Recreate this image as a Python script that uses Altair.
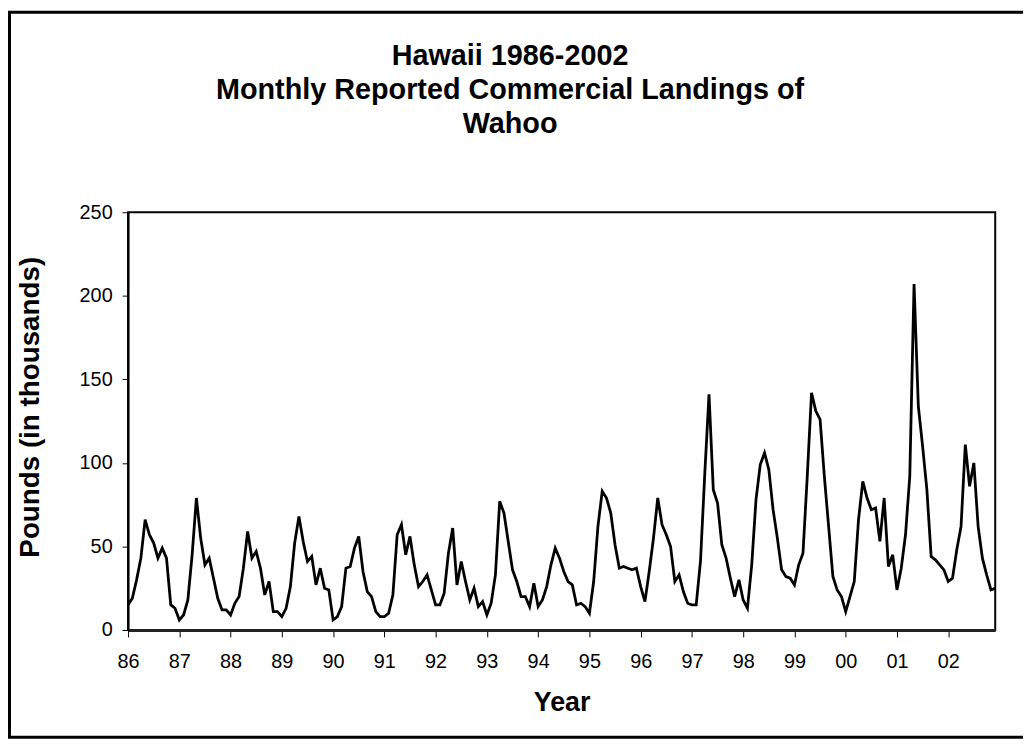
import altair as alt
import pandas as pd

# Monthly reported commercial landings of Wahoo, thousands of pounds (Jan..Dec)
y1986 = [15, 19, 30, 43, 66, 57, 52, 43, 49, 43, 15, 13]
y1987 = [6, 9, 18, 45, 79, 55, 39, 43, 31, 19, 12, 12]
y1988 = [9, 16, 20, 37, 59, 43, 47, 37, 21, 29, 11, 11]
y1989 = [8, 13, 26, 52, 68, 53, 41, 44, 27, 37, 25, 24]
y1990 = [6, 8, 14, 37, 38, 49, 56, 35, 23, 20, 11, 8]
y1991 = [8, 10, 21, 57, 63, 45, 56, 39, 26, 29, 33, 24]
y1992 = [15, 15, 22, 46, 61, 27, 41, 29, 18, 25, 14, 17]
y1993 = [9, 16, 33, 77, 70, 53, 36, 29, 20, 20, 14, 28]
y1994 = [14, 18, 26, 39, 49, 43, 35, 29, 27, 15, 16, 14]
y1995 = [10, 29, 62, 83, 79, 70, 51, 37, 38, 37, 36, 37]
y1996 = [26, 17, 35, 55, 79, 63, 57, 50, 29, 33, 23, 16]
y1997 = [15, 15, 41, 93, 141, 84, 76, 51, 43, 31, 20, 30]
y1998 = [18, 13, 39, 78, 99, 106, 96, 72, 55, 36, 32, 31]
y1999 = [27, 39, 46, 92, 142, 131, 126, 92, 62, 32, 24, 20]
y2000 = [11, 20, 29, 66, 89, 79, 72, 73, 53, 79, 38, 45]
y2001 = [24, 37, 57, 92, 207, 134, 110, 84, 44, 42, 39, 36]
y2002 = [29, 31, 48, 62, 111, 86, 100, 62, 43, 33, 24, 25]

year_labels = ["86", "87", "88", "89", "90", "91", "92", "93", "94",
               "95", "96", "97", "98", "99", "00", "01", "02"]
y_ticks = [0, 50, 100, 150, 200, 250]

years = [y1986, y1987, y1988, y1989, y1990, y1991, y1992, y1993, y1994,
         y1995, y1996, y1997, y1998, y1999, y2000, y2001, y2002]
values = [v for yr in years for v in yr]
df = pd.DataFrame({"month": list(range(len(values))), "pounds": values})

n_months = len(values)
tick_vals = [12 * k for k in range(len(year_labels))]
label_expr = "[" + ",".join("'%s'" % s for s in year_labels) + "][round(datum.value/12)]"

FONT = "Liberation Sans"

line = alt.Chart(df).mark_line(color="black", strokeWidth=2.8).encode(
    x=alt.X("month:Q",
            scale=alt.Scale(domain=[0, n_months - 1], nice=False, zero=False),
            axis=alt.Axis(values=tick_vals, labelExpr=label_expr, title="Year",
                          grid=False, domainColor="#222222", domainWidth=3,
                          tickColor="black", tickSize=7, tickWidth=1,
                          labelFont=FONT, labelFontSize=20, labelColor="black",
                          labelPadding=15, labelFlush=False,
                          titleFont=FONT, titleFontSize=27, titleFontWeight="bold",
                          titleColor="black", titleBaseline="alphabetic", titleY=81)),
    y=alt.Y("pounds:Q",
            scale=alt.Scale(domain=[0, 250], nice=False),
            axis=alt.Axis(values=y_ticks, title="Pounds (in thousands)",
                          grid=False, domainColor="black", domainWidth=2,
                          tickColor="black", tickSize=6, tickWidth=1,
                          labelFont=FONT, labelFontSize=20, labelColor="black",
                          labelPadding=10,
                          titleFont=FONT, titleFontSize=28, titleFontWeight="bold",
                          titleColor="black", titleX=-84, titleY=196)),
)

frame = alt.Chart(pd.DataFrame({"f": [0]})).mark_rect(
    filled=False, stroke="black", strokeWidth=3
).encode(
    x=alt.value(-119.5), x2=alt.value(911),
    y=alt.value(-201.5), y2=alt.value(529),
)

chart = alt.layer(frame, line).properties(
    width=874,
    height=421,
    autosize=alt.AutoSizeParams(type="none"),
    padding={"left": 121, "top": 203, "right": 28, "bottom": 111},
    title=alt.Title(
        text=["Hawaii 1986-2002", "Monthly Reported Commercial Landings of", "Wahoo"],
        font=FONT, fontSize=29, fontWeight="bold", color="black",
        anchor="middle", frame="group", dx=-52, offset=-129, lineHeight=34,
    ),
).configure_view(stroke="black", strokeWidth=2)

chart.save("out.html", embed_options={"renderer": "svg", "actions": False})
